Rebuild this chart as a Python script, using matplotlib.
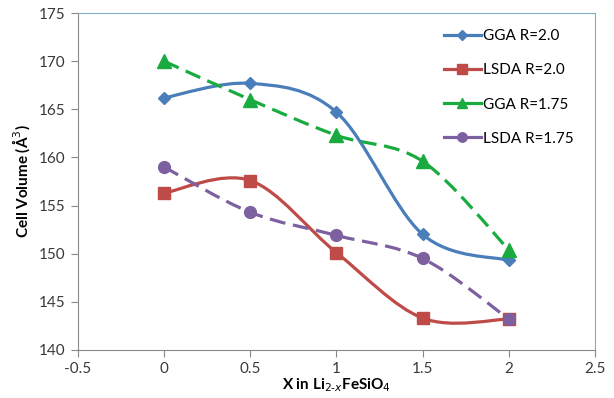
import numpy as np
import matplotlib.pyplot as plt
from matplotlib.path import Path
from matplotlib.patches import PathPatch
from matplotlib.lines import Line2D

plt.rcParams['font.family'] = ['Lato', 'DejaVu Sans']

# data
x = [0, 0.5, 1, 1.5, 2]
gga_20 = [166.2, 167.7, 164.7, 152.0, 149.3]
lsda_20 = [156.3, 157.6, 150.1, 143.3, 143.2]
gga_175 = [170.0, 166.0, 162.3, 159.6, 150.4]
lsda_175 = [159.0, 154.3, 151.9, 149.5, 143.2]

labels = ['GGA R=2.0', 'LSDA R=2.0', 'GGA R=1.75', 'LSDA R=1.75']
colors = ['#4A7EBB', '#BE4B48', '#1AAB40', '#7D60A0']
markers = ['D', 's', '^', 'o']
msizes = [6.5, 8.5, 9.5, 8.5]
styles = ['-', '-', (0, (5, 2.4)), (0, (5, 2.4))]


def smooth_path(xs, ys):
    # Excel-like smoothed line: cubic bezier through the points
    p = np.column_stack([xs, ys]).astype(float)
    n = len(p)
    verts = [p[0]]
    codes = [Path.MOVETO]
    for i in range(n - 1):
        p0 = p[i - 1] if i > 0 else p[i]
        p1 = p[i]
        p2 = p[i + 1]
        p3 = p[i + 2] if i + 2 < n else p[i + 1]
        c1 = p1 + (p2 - p0) / 6.0
        c2 = p2 - (p3 - p1) / 6.0
        verts += [c1, c2, p2]
        codes += [Path.CURVE4] * 3
    return Path(verts, codes)


fig = plt.figure(figsize=(6.14, 3.98), dpi=100)
ax = fig.add_axes([0.127, 0.121, 0.842, 0.846])

handles = []
for ys, lab, c, m, ms, ls in zip([gga_20, lsda_20, gga_175, lsda_175],
                                 labels, colors, markers, msizes, styles):
    patch = PathPatch(smooth_path(x, ys), facecolor='none', edgecolor=c,
                      lw=2.3, linestyle=ls, capstyle='butt', zorder=2)
    ax.add_patch(patch)
    ax.plot(x, ys, linestyle='none', marker=m, ms=ms, color=c, zorder=3)
    handles.append(Line2D([], [], color=c, lw=2.3, marker=m,
                          ms=ms * 0.8, label=lab))

ax.set_xlim(-0.5, 2.5)
ax.set_ylim(140, 175)
ax.set_xticks(np.arange(-0.5, 2.51, 0.5))
ax.set_xticklabels(['-0.5', '0', '0.5', '1', '1.5', '2', '2.5'])
ax.set_yticks(np.arange(140, 176, 5))

for s in ['left', 'bottom']:
    ax.spines[s].set_color('#888888')
for s in ['top', 'right']:
    ax.spines[s].set_color('#7FAFC0')
ax.tick_params(axis='both', direction='out', length=5, color='#888888',
               labelsize=11, labelcolor='#3A3A3A', pad=4)
ax.tick_params(top=False, right=False)

ax.set_ylabel('Cell Volume (Å$^3$)', fontsize=11, fontweight='bold', labelpad=5)
ax.set_xlabel('X in Li$_{2\\text{-}x}$FeSiO$_4$', fontsize=11, fontweight='bold', labelpad=0)

leg = ax.legend(handles=handles, loc='upper left', bbox_to_anchor=(0.687, 0.985),
                frameon=False, fontsize=11, handlelength=2.4, handletextpad=0.15,
                labelspacing=1.33, borderaxespad=0.3)

fig.savefig('out.png', dpi=100)
